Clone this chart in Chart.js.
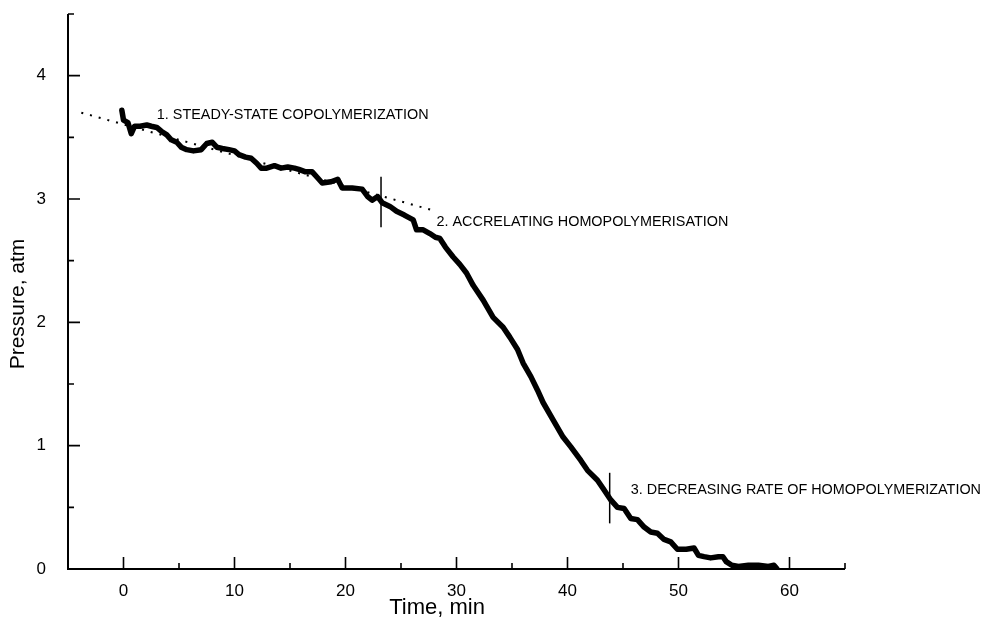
<!DOCTYPE html>
<html>
<head>
<meta charset="utf-8">
<script src="https://cdn.jsdelivr.net/npm/chart.js@4.4.1/dist/chart.umd.min.js"></script>
<style>
body{margin:0;background:#fff}
</style>
</head>
<body>
<canvas id="chart" width="983" height="630"></canvas>
<script>
// recorded run
let timeMin=[-0.15,0.0,0.4,0.7,1.0,1.5,2.1,2.5,3.0,3.4,3.9,4.3,4.8,5.2,5.7,6.3,7.0,7.5,8.0,8.4,8.9,9.5,10.0,10.4,11.0,11.5,12.0,12.4,12.9,13.6,14.2,14.8,15.4,15.8,16.4,17.0,17.5,17.9,18.7,19.3,19.7,20.6,21.5,22.0,22.4,22.9,23.3,24.0,24.6,25.3,26.1,26.4,27.0,27.6,28.1,28.5,29.0,29.7,30.3,30.9,31.5,32.4,33.3,34.2,34.8,35.5,36.0,36.7,37.3,37.8,38.7,39.6,40.3,41.2,41.8,42.7,43.3,43.9,44.5,45.1,45.7,46.3,46.9,47.5,48.1,48.7,49.3,49.9,50.7,51.4,51.8,52.3,52.9,53.6,54.0,54.3,54.8,55.4,56.3,57.2,58.1,58.6,58.8,59.1]
let pressure=[3.72,3.64,3.62,3.53,3.59,3.59,3.60,3.59,3.58,3.55,3.52,3.48,3.46,3.42,3.40,3.39,3.40,3.45,3.46,3.42,3.41,3.40,3.39,3.36,3.34,3.33,3.29,3.25,3.25,3.27,3.25,3.26,3.25,3.24,3.22,3.22,3.17,3.13,3.14,3.16,3.09,3.09,3.08,3.02,2.99,3.02,2.97,2.94,2.90,2.87,2.83,2.75,2.75,2.72,2.69,2.68,2.61,2.53,2.47,2.40,2.30,2.18,2.04,1.96,1.88,1.78,1.67,1.56,1.45,1.35,1.21,1.07,0.99,0.88,0.80,0.72,0.64,0.56,0.50,0.49,0.41,0.40,0.34,0.30,0.29,0.24,0.22,0.16,0.16,0.17,0.11,0.10,0.09,0.10,0.10,0.06,0.03,0.02,0.03,0.03,0.02,0.03,0.01,-0.03]

// dotted steady-state line
let trendTime=[-3.8,28.2]
let trendPressure=[3.70,2.90]

// stage markers
let markTime=[23.2,43.8]
let markLow=[2.77,0.37]
let markHigh=[3.18,0.78]

let xTickLabels=[0,10,20,30,40,50,60]
let yTickLabels=[0,1,2,3,4]

let notes=["1. STEADY-STATE COPOLYMERIZATION","2. ACCRELATING HOMOPOLYMERISATION","3. DECREASING RATE OF HOMOPOLYMERIZATION"]

let font='"Liberation Sans", Arial, Helvetica, sans-serif'

let axesPlugin={
id:"axes",
afterDatasetsDraw(c){
let ctx=c.ctx
let xs=c.scales.x
let ys=c.scales.y
let x0=xs.getPixelForValue(-5)
let y0=ys.getPixelForValue(0)
ctx.save()
ctx.strokeStyle="#000"
ctx.lineWidth=2
ctx.beginPath()
ctx.moveTo(x0,ys.getPixelForValue(4.5))
ctx.lineTo(x0,y0)
ctx.lineTo(xs.getPixelForValue(65),y0)
ctx.stroke()

// inward ticks
ctx.lineWidth=1.6
ctx.beginPath()
for(let v=0;v<=65;v+=5){
let px=xs.getPixelForValue(v)
let len=v%10===0?12:6
ctx.moveTo(px,y0)
ctx.lineTo(px,y0-len)
}
for(let v=0.5;v<=4.5;v+=0.5){
let py=ys.getPixelForValue(v)
let len=Number.isInteger(v)?12:6
ctx.moveTo(x0,py)
ctx.lineTo(x0+len,py)
}
ctx.stroke()

// stage notes
ctx.fillStyle="#000"
ctx.font="14.4px "+font
ctx.textBaseline="middle"
ctx.textAlign="left"
let at=[[3.0,3.68],[28.2,2.815],[45.7,0.64]]
notes.forEach((n,i)=>{
ctx.fillText(n,xs.getPixelForValue(at[i][0]),ys.getPixelForValue(at[i][1]))
})

// axis titles
ctx.textAlign="center"
ctx.font="22px "+font
ctx.fillText("Time, min",437,608)
ctx.translate(18,304)
ctx.rotate(-Math.PI/2)
ctx.font="21px "+font
ctx.fillText("Pressure, atm",0,0)
ctx.restore()
}
}

window.onload=function(){

let curve=timeMin.map((t,i)=>({x:t,y:pressure[i]}))
let trend=trendTime.map((t,i)=>({x:t,y:trendPressure[i]}))

let sets=[{
data:curve,
borderColor:"#000",
borderWidth:5.5,
pointRadius:0,
borderJoinStyle:"round",
borderCapStyle:"round"
},{
data:trend,
borderColor:"#000",
borderWidth:2,
borderDash:[2,7],
pointRadius:0
}]

markTime.forEach((t,i)=>{
sets.push({
data:[{x:t,y:markLow[i]},{x:t,y:markHigh[i]}],
borderColor:"#000",
borderWidth:1.5,
pointRadius:0
})
})

new Chart(document.getElementById("chart"),{
type:"line",
data:{datasets:sets},
options:{
responsive:false,
animation:false,
layout:{padding:{left:0,top:14,right:138,bottom:0}},
plugins:{legend:{display:false},tooltip:{enabled:false}},
scales:{
x:{
type:"linear",
min:-5,
max:65,
grid:{display:false},
border:{display:false},
ticks:{font:{family:font,size:17},color:"#000",padding:4,maxRotation:0},
afterBuildTicks:s=>{s.ticks=xTickLabels.map(v=>({value:v}))},
afterFit:s=>{s.height=61;s.paddingLeft=0;s.paddingRight=0}
},
y:{
type:"linear",
min:0,
max:4.5,
grid:{display:false},
border:{display:false},
ticks:{font:{family:font,size:17},color:"#000",padding:14},
afterBuildTicks:s=>{s.ticks=yTickLabels.map(v=>({value:v}))},
afterFit:s=>{s.width=68;s.paddingTop=0;s.paddingBottom=0}
}
}
},
plugins:[axesPlugin]
})

}
</script>
</body>
</html>
